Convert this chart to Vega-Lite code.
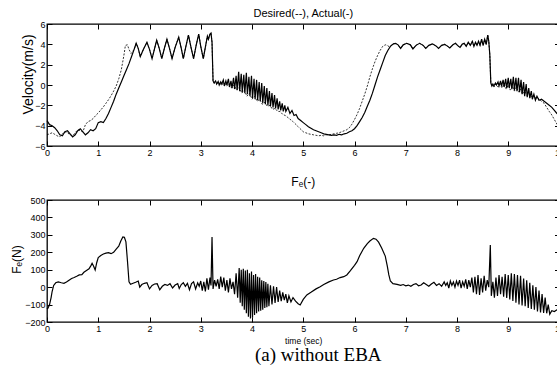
{
"$schema": "https://vega.github.io/schema/vega-lite/v6.json",
"padding": {"left": 9, "top": 7, "right": 0, "bottom": 0},
"background": "white",
"config": {
"view": {"stroke": "black", "strokeWidth": 1.3},
"font": "Liberation Sans",
"axis": {"domain": false, "grid": false, "ticks": true, "tickSize": -5, "tickColor": "black", "tickWidth": 1, "labelPadding": 7, "labelFlush": false, "labelFont": "Liberation Sans", "labelFontSize": 9, "labelColor": "black", "titleFont": "Liberation Sans", "titleFontWeight": "normal", "titleColor": "black"},
"title": {"font": "Liberation Sans", "fontWeight": "normal", "color": "black"}
},
"title": {"text": "(a) without EBA", "orient": "bottom", "anchor": "middle", "font": "Liberation Serif", "fontSize": 19, "fontWeight": "normal", "offset": 1, "dx": 31},
"spacing": 54,
"bounds": "flush",
"datasets": {
"vel": [
{"t":0,"v":-4.9,"s":"D"},{"t":0.05,"v":-4.8,"s":"D"},{"t":0.1,"v":-4.7,"s":"D"},{"t":0.15,"v":-4.85,"s":"D"},{"t":0.2,"v":-5.0,"s":"D"},{"t":0.25,"v":-5.1,"s":"D"},{"t":0.3,"v":-4.8,"s":"D"},{"t":0.35,"v":-4.6,"s":"D"},{"t":0.4,"v":-4.7,"s":"D"},{"t":0.45,"v":-4.9,"s":"D"},{"t":0.5,"v":-5.0,"s":"D"},{"t":0.55,"v":-4.7,"s":"D"},{"t":0.6,"v":-4.4,"s":"D"},{"t":0.65,"v":-4.5,"s":"D"},{"t":0.7,"v":-4.6,"s":"D"},{"t":0.75,"v":-3.9,"s":"D"},{"t":0.8,"v":-3.6,"s":"D"},{"t":0.85,"v":-3.5,"s":"D"},{"t":0.9,"v":-3.3,"s":"D"},{"t":0.95,"v":-3.0,"s":"D"},{"t":1.0,"v":-2.75,"s":"D"},{"t":1.05,"v":-2.45,"s":"D"},{"t":1.1,"v":-2.15,"s":"D"},{"t":1.15,"v":-1.8,"s":"D"},{"t":1.2,"v":-1.45,"s":"D"},{"t":1.25,"v":-1.05,"s":"D"},{"t":1.3,"v":-0.6,"s":"D"},{"t":1.35,"v":-0.1,"s":"D"},{"t":1.4,"v":0.6,"s":"D"},{"t":1.45,"v":1.5,"s":"D"},{"t":1.5,"v":2.9,"s":"D"},{"t":1.53,"v":3.9,"s":"D"},{"t":1.57,"v":3.95,"s":"D"},{"t":1.6,"v":3.5,"s":"D"},{"t":1.64,"v":3.1,"s":"D"},
{"t":0,"v":-3.5,"s":"A"},{"t":0.05,"v":-3.9,"s":"A"},{"t":0.1,"v":-4.0,"s":"A"},{"t":0.15,"v":-4.2,"s":"A"},{"t":0.2,"v":-4.5,"s":"A"},{"t":0.25,"v":-4.9,"s":"A"},{"t":0.3,"v":-5.0,"s":"A"},{"t":0.35,"v":-4.6,"s":"A"},{"t":0.4,"v":-4.5,"s":"A"},{"t":0.45,"v":-4.8,"s":"A"},{"t":0.5,"v":-5.1,"s":"A"},{"t":0.55,"v":-4.9,"s":"A"},{"t":0.6,"v":-4.5,"s":"A"},{"t":0.65,"v":-4.3,"s":"A"},{"t":0.7,"v":-4.6,"s":"A"},{"t":0.75,"v":-4.9,"s":"A"},{"t":0.8,"v":-4.7,"s":"A"},{"t":0.85,"v":-4.4,"s":"A"},{"t":0.9,"v":-4.5,"s":"A"},{"t":0.95,"v":-4.3,"s":"A"},{"t":1.0,"v":-3.7,"s":"A"},{"t":1.05,"v":-3.6,"s":"A"},{"t":1.1,"v":-3.7,"s":"A"},{"t":1.15,"v":-3.3,"s":"A"},{"t":1.2,"v":-2.8,"s":"A"},{"t":1.25,"v":-2.2,"s":"A"},{"t":1.3,"v":-1.6,"s":"A"},{"t":1.35,"v":-0.9,"s":"A"},{"t":1.4,"v":-0.3,"s":"A"},{"t":1.45,"v":0.3,"s":"A"},{"t":1.5,"v":0.9,"s":"A"},{"t":1.55,"v":1.5,"s":"A"},{"t":1.6,"v":2.1,"s":"A"},{"t":1.65,"v":2.8,"s":"A"},
{"t":1.7,"v":3.5,"s":"B"},{"t":1.74,"v":4.1,"s":"B"},{"t":1.78,"v":3.6,"s":"B"},{"t":1.82,"v":2.8,"s":"B"},{"t":1.88,"v":3.5,"s":"B"},{"t":1.95,"v":4.2,"s":"B"},{"t":2.0,"v":3.5,"s":"B"},{"t":2.05,"v":2.6,"s":"B"},{"t":2.1,"v":3.6,"s":"B"},{"t":2.14,"v":4.4,"s":"B"},{"t":2.19,"v":3.6,"s":"B"},{"t":2.24,"v":2.6,"s":"B"},{"t":2.29,"v":3.6,"s":"B"},{"t":2.34,"v":4.5,"s":"B"},{"t":2.39,"v":3.6,"s":"B"},{"t":2.44,"v":2.6,"s":"B"},{"t":2.5,"v":3.7,"s":"B"},{"t":2.57,"v":4.7,"s":"B"},{"t":2.62,"v":3.6,"s":"B"},{"t":2.66,"v":2.6,"s":"B"},{"t":2.71,"v":3.8,"s":"B"},{"t":2.76,"v":4.9,"s":"B"},{"t":2.81,"v":3.7,"s":"B"},{"t":2.86,"v":2.6,"s":"B"},{"t":2.91,"v":3.9,"s":"B"},{"t":2.96,"v":5.0,"s":"B"},{"t":3.0,"v":3.8,"s":"B"},{"t":3.05,"v":2.6,"s":"B"},{"t":3.1,"v":4.0,"s":"B"},{"t":3.13,"v":4.8,"s":"B"},{"t":3.15,"v":4.5,"s":"B"},{"t":3.18,"v":5.0,"s":"B"},{"t":3.2,"v":5.1,"s":"B"},{"t":3.22,"v":4.2,"s":"B"},{"t":3.24,"v":0.4,"s":"B"},
{"t":3.26,"v":0.2,"s":"A"},{"t":3.29,"v":0.4,"s":"A"},{"t":3.31,"v":0.1,"s":"A"},{"t":3.34,"v":0.35,"s":"A"},{"t":3.36,"v":0.0,"s":"A"},{"t":3.39,"v":0.3,"s":"A"},{"t":3.41,"v":0.1,"s":"A"},{"t":3.44,"v":0.5,"s":"A"},{"t":3.46,"v":-0.1,"s":"A"},{"t":3.49,"v":0.4,"s":"A"},{"t":3.51,"v":0.0,"s":"A"},{"t":3.54,"v":0.6,"s":"A"},{"t":3.56,"v":-0.2,"s":"A"},{"t":3.59,"v":0.4,"s":"A"},{"t":3.61,"v":-0.3,"s":"A"},{"t":3.64,"v":0.7,"s":"A"},{"t":3.66,"v":-0.4,"s":"A"},{"t":3.69,"v":0.9,"s":"A"},{"t":3.71,"v":-0.5,"s":"A"},{"t":3.74,"v":1.3,"s":"A"},{"t":3.76,"v":-0.6,"s":"A"},{"t":3.79,"v":1.1,"s":"A"},{"t":3.81,"v":-0.7,"s":"A"},{"t":3.84,"v":1.0,"s":"A"},{"t":3.86,"v":-0.8,"s":"A"},{"t":3.89,"v":1.2,"s":"A"},{"t":3.91,"v":-0.9,"s":"A"},{"t":3.94,"v":0.8,"s":"A"},{"t":3.96,"v":-1.1,"s":"A"},{"t":3.99,"v":0.9,"s":"A"},{"t":4.01,"v":-1.3,"s":"A"},{"t":4.04,"v":0.6,"s":"A"},{"t":4.06,"v":-1.4,"s":"A"},{"t":4.09,"v":0.5,"s":"A"},{"t":4.11,"v":-1.5,"s":"A"},{"t":4.14,"v":0.3,"s":"A"},{"t":4.16,"v":-1.6,"s":"A"},{"t":4.19,"v":0.2,"s":"A"},{"t":4.21,"v":-1.8,"s":"A"},{"t":4.24,"v":-0.1,"s":"A"},{"t":4.26,"v":-1.9,"s":"A"},{"t":4.29,"v":-0.3,"s":"A"},{"t":4.31,"v":-2.0,"s":"A"},{"t":4.34,"v":-0.6,"s":"A"},{"t":4.36,"v":-2.1,"s":"A"},{"t":4.39,"v":-0.8,"s":"A"},{"t":4.41,"v":-2.2,"s":"A"},{"t":4.44,"v":-1.0,"s":"A"},{"t":4.46,"v":-2.3,"s":"A"},{"t":4.49,"v":-1.3,"s":"A"},{"t":4.51,"v":-2.4,"s":"A"},{"t":4.54,"v":-1.6,"s":"A"},{"t":4.56,"v":-2.5,"s":"A"},{"t":4.59,"v":-1.8,"s":"A"},{"t":4.61,"v":-2.6,"s":"A"},{"t":4.64,"v":-2.0,"s":"A"},{"t":4.66,"v":-2.6,"s":"A"},{"t":4.7,"v":-2.2,"s":"A"},{"t":4.74,"v":-2.8,"s":"A"},{"t":4.78,"v":-2.5,"s":"A"},{"t":4.82,"v":-3.0,"s":"A"},{"t":4.86,"v":-2.9,"s":"A"},{"t":4.9,"v":-3.3,"s":"A"},{"t":4.95,"v":-3.5,"s":"A"},{"t":5.0,"v":-3.7,"s":"A"},
{"t":3.26,"v":0.2,"s":"D"},{"t":3.3,"v":0.1,"s":"D"},{"t":3.35,"v":0.25,"s":"D"},{"t":3.4,"v":0.0,"s":"D"},{"t":3.45,"v":0.2,"s":"D"},{"t":3.5,"v":-0.1,"s":"D"},{"t":3.55,"v":0.1,"s":"D"},{"t":3.6,"v":-0.3,"s":"D"},{"t":3.65,"v":0.0,"s":"D"},{"t":3.7,"v":-0.5,"s":"D"},{"t":3.75,"v":-0.2,"s":"D"},{"t":3.8,"v":-0.8,"s":"D"},{"t":3.85,"v":-0.5,"s":"D"},{"t":3.9,"v":-1.1,"s":"D"},{"t":3.95,"v":-0.8,"s":"D"},{"t":4.0,"v":-1.4,"s":"D"},{"t":4.05,"v":-1.1,"s":"D"},{"t":4.1,"v":-1.6,"s":"D"},{"t":4.15,"v":-1.4,"s":"D"},{"t":4.2,"v":-1.9,"s":"D"},{"t":4.25,"v":-1.7,"s":"D"},{"t":4.3,"v":-2.1,"s":"D"},{"t":4.35,"v":-2.0,"s":"D"},{"t":4.4,"v":-2.4,"s":"D"},{"t":4.45,"v":-2.3,"s":"D"},{"t":4.5,"v":-2.6,"s":"D"},{"t":4.55,"v":-2.6,"s":"D"},{"t":4.6,"v":-2.9,"s":"D"},{"t":4.65,"v":-3.0,"s":"D"},{"t":4.7,"v":-3.2,"s":"D"},{"t":4.8,"v":-3.6,"s":"D"},{"t":4.9,"v":-4.1,"s":"D"},{"t":5.0,"v":-4.6,"s":"D"},
{"t":5.05,"v":-3.9,"s":"A"},{"t":5.1,"v":-4.1,"s":"A"},{"t":5.15,"v":-4.25,"s":"A"},{"t":5.2,"v":-4.4,"s":"A"},{"t":5.25,"v":-4.5,"s":"A"},{"t":5.3,"v":-4.6,"s":"A"},{"t":5.35,"v":-4.7,"s":"A"},{"t":5.4,"v":-4.8,"s":"A"},{"t":5.45,"v":-4.85,"s":"A"},{"t":5.5,"v":-4.9,"s":"A"},{"t":5.55,"v":-4.95,"s":"A"},{"t":5.6,"v":-4.9,"s":"A"},{"t":5.65,"v":-4.95,"s":"A"},{"t":5.7,"v":-4.85,"s":"A"},{"t":5.75,"v":-4.9,"s":"A"},{"t":5.8,"v":-4.8,"s":"A"},{"t":5.85,"v":-4.75,"s":"A"},{"t":5.9,"v":-4.6,"s":"A"},{"t":5.95,"v":-4.5,"s":"A"},{"t":6.0,"v":-4.3,"s":"A"},{"t":6.05,"v":-4.0,"s":"A"},{"t":6.1,"v":-3.6,"s":"A"},{"t":6.15,"v":-3.2,"s":"A"},{"t":6.2,"v":-2.7,"s":"A"},{"t":6.25,"v":-2.1,"s":"A"},{"t":6.3,"v":-1.5,"s":"A"},{"t":6.35,"v":-0.8,"s":"A"},{"t":6.4,"v":0.0,"s":"A"},{"t":6.45,"v":0.8,"s":"A"},{"t":6.5,"v":1.5,"s":"A"},{"t":6.55,"v":2.2,"s":"A"},{"t":6.6,"v":2.9,"s":"A"},{"t":6.65,"v":3.4,"s":"A"},{"t":6.7,"v":3.8,"s":"A"},
{"t":5.05,"v":-4.7,"s":"D"},{"t":5.1,"v":-4.8,"s":"D"},{"t":5.15,"v":-4.85,"s":"D"},{"t":5.2,"v":-4.9,"s":"D"},{"t":5.25,"v":-4.95,"s":"D"},{"t":5.3,"v":-5.0,"s":"D"},{"t":5.35,"v":-4.95,"s":"D"},{"t":5.4,"v":-5.0,"s":"D"},{"t":5.45,"v":-4.9,"s":"D"},{"t":5.5,"v":-4.9,"s":"D"},{"t":5.55,"v":-4.85,"s":"D"},{"t":5.6,"v":-4.8,"s":"D"},{"t":5.65,"v":-4.75,"s":"D"},{"t":5.7,"v":-4.7,"s":"D"},{"t":5.75,"v":-4.6,"s":"D"},{"t":5.8,"v":-4.5,"s":"D"},{"t":5.85,"v":-4.4,"s":"D"},{"t":5.9,"v":-4.2,"s":"D"},{"t":5.95,"v":-3.85,"s":"D"},{"t":6.0,"v":-3.4,"s":"D"},{"t":6.05,"v":-2.9,"s":"D"},{"t":6.1,"v":-2.3,"s":"D"},{"t":6.15,"v":-1.6,"s":"D"},{"t":6.2,"v":-0.9,"s":"D"},{"t":6.25,"v":-0.1,"s":"D"},{"t":6.3,"v":0.8,"s":"D"},{"t":6.35,"v":1.6,"s":"D"},{"t":6.4,"v":2.3,"s":"D"},{"t":6.45,"v":2.9,"s":"D"},{"t":6.5,"v":3.4,"s":"D"},{"t":6.55,"v":3.8,"s":"D"},{"t":6.6,"v":3.95,"s":"D"},{"t":6.64,"v":3.9,"s":"D"},{"t":6.68,"v":3.75,"s":"D"},
{"t":6.76,"v":4.05,"s":"B"},{"t":6.8,"v":4.1,"s":"B"},{"t":6.85,"v":3.95,"s":"B"},{"t":6.9,"v":3.6,"s":"B"},{"t":6.95,"v":3.95,"s":"B"},{"t":7.02,"v":4.1,"s":"B"},{"t":7.09,"v":3.95,"s":"B"},{"t":7.14,"v":3.55,"s":"B"},{"t":7.2,"v":3.9,"s":"B"},{"t":7.27,"v":4.1,"s":"B"},{"t":7.34,"v":3.9,"s":"B"},{"t":7.39,"v":3.6,"s":"B"},{"t":7.45,"v":3.9,"s":"B"},{"t":7.52,"v":4.05,"s":"B"},{"t":7.59,"v":3.85,"s":"B"},{"t":7.64,"v":3.6,"s":"B"},{"t":7.7,"v":3.9,"s":"B"},{"t":7.76,"v":4.0,"s":"B"},{"t":7.82,"v":3.8,"s":"B"},{"t":7.86,"v":3.65,"s":"B"},{"t":7.92,"v":3.95,"s":"B"},{"t":7.97,"v":4.1,"s":"B"},{"t":8.02,"v":3.85,"s":"B"},{"t":8.06,"v":3.7,"s":"B"},{"t":8.1,"v":4.0,"s":"B"},{"t":8.14,"v":4.1,"s":"B"},{"t":8.18,"v":3.8,"s":"B"},{"t":8.22,"v":4.2,"s":"B"},{"t":8.26,"v":3.9,"s":"B"},{"t":8.3,"v":4.3,"s":"B"},{"t":8.33,"v":3.8,"s":"B"},{"t":8.36,"v":4.2,"s":"B"},{"t":8.39,"v":3.9,"s":"B"},{"t":8.42,"v":4.3,"s":"B"},{"t":8.45,"v":3.9,"s":"B"},{"t":8.48,"v":4.5,"s":"B"},{"t":8.51,"v":3.9,"s":"B"},{"t":8.54,"v":4.5,"s":"B"},{"t":8.57,"v":4.0,"s":"B"},{"t":8.6,"v":4.9,"s":"B"},{"t":8.62,"v":4.3,"s":"B"},{"t":8.64,"v":3.0,"s":"B"},{"t":8.66,"v":0.2,"s":"B"},
{"t":8.68,"v":-0.1,"s":"A"},{"t":8.7,"v":0.1,"s":"A"},{"t":8.72,"v":-0.1,"s":"A"},{"t":8.75,"v":0.2,"s":"A"},{"t":8.77,"v":0.0,"s":"A"},{"t":8.8,"v":0.3,"s":"A"},{"t":8.82,"v":-0.1,"s":"A"},{"t":8.85,"v":0.4,"s":"A"},{"t":8.87,"v":-0.1,"s":"A"},{"t":8.9,"v":0.5,"s":"A"},{"t":8.92,"v":-0.2,"s":"A"},{"t":8.95,"v":0.6,"s":"A"},{"t":8.97,"v":-0.3,"s":"A"},{"t":9.0,"v":0.7,"s":"A"},{"t":9.02,"v":-0.3,"s":"A"},{"t":9.05,"v":0.6,"s":"A"},{"t":9.07,"v":-0.4,"s":"A"},{"t":9.1,"v":0.8,"s":"A"},{"t":9.12,"v":-0.5,"s":"A"},{"t":9.15,"v":0.7,"s":"A"},{"t":9.17,"v":-0.6,"s":"A"},{"t":9.2,"v":0.7,"s":"A"},{"t":9.22,"v":-0.7,"s":"A"},{"t":9.25,"v":0.5,"s":"A"},{"t":9.27,"v":-0.9,"s":"A"},{"t":9.3,"v":0.3,"s":"A"},{"t":9.32,"v":-1.1,"s":"A"},{"t":9.35,"v":0.1,"s":"A"},{"t":9.37,"v":-1.2,"s":"A"},{"t":9.4,"v":-0.3,"s":"A"},{"t":9.42,"v":-1.3,"s":"A"},{"t":9.45,"v":-0.6,"s":"A"},{"t":9.47,"v":-1.4,"s":"A"},{"t":9.5,"v":-0.9,"s":"A"},{"t":9.53,"v":-1.5,"s":"A"},{"t":9.56,"v":-1.1,"s":"A"},{"t":9.6,"v":-1.5,"s":"A"},{"t":9.65,"v":-1.4,"s":"A"},{"t":9.7,"v":-1.6,"s":"A"},{"t":9.75,"v":-1.8,"s":"A"},{"t":9.8,"v":-2.0,"s":"A"},{"t":9.85,"v":-2.2,"s":"A"},{"t":9.9,"v":-2.5,"s":"A"},{"t":9.95,"v":-2.8,"s":"A"},{"t":10.0,"v":-3.0,"s":"A"},
{"t":8.68,"v":0.0,"s":"D"},{"t":8.72,"v":-0.2,"s":"D"},{"t":8.76,"v":0.1,"s":"D"},{"t":8.8,"v":-0.2,"s":"D"},{"t":8.84,"v":0.1,"s":"D"},{"t":8.88,"v":-0.3,"s":"D"},{"t":8.92,"v":0.1,"s":"D"},{"t":8.96,"v":-0.4,"s":"D"},{"t":9.0,"v":0.0,"s":"D"},{"t":9.04,"v":-0.5,"s":"D"},{"t":9.08,"v":-0.1,"s":"D"},{"t":9.12,"v":-0.6,"s":"D"},{"t":9.16,"v":-0.2,"s":"D"},{"t":9.2,"v":-0.7,"s":"D"},{"t":9.24,"v":-0.4,"s":"D"},{"t":9.28,"v":-0.9,"s":"D"},{"t":9.32,"v":-0.6,"s":"D"},{"t":9.36,"v":-1.0,"s":"D"},{"t":9.4,"v":-0.8,"s":"D"},{"t":9.44,"v":-1.2,"s":"D"},{"t":9.48,"v":-1.0,"s":"D"},{"t":9.52,"v":-1.3,"s":"D"},{"t":9.56,"v":-1.2,"s":"D"},{"t":9.6,"v":-1.4,"s":"D"},{"t":9.65,"v":-1.6,"s":"D"},{"t":9.7,"v":-1.8,"s":"D"},{"t":9.75,"v":-2.2,"s":"D"},{"t":9.8,"v":-2.6,"s":"D"},{"t":9.85,"v":-2.95,"s":"D"},{"t":9.9,"v":-3.4,"s":"D"},{"t":9.95,"v":-3.85,"s":"D"},{"t":10.0,"v":-4.2,"s":"D"}
],
"force": [
{"t":0,"f":-125},{"t":0.02,"f":-120},{"t":0.05,"f":-100},{"t":0.08,"f":-60},{"t":0.1,"f":-25},{"t":0.13,"f":10},{"t":0.17,"f":25},{"t":0.22,"f":30},{"t":0.28,"f":25},{"t":0.33,"f":22},{"t":0.38,"f":30},{"t":0.43,"f":40},{"t":0.48,"f":50},{"t":0.53,"f":55},{"t":0.58,"f":62},{"t":0.63,"f":70},{"t":0.68,"f":72},{"t":0.72,"f":85},{"t":0.77,"f":95},{"t":0.82,"f":105},{"t":0.86,"f":125},{"t":0.88,"f":137},{"t":0.91,"f":120},{"t":0.94,"f":98},{"t":0.97,"f":140},{"t":1.0,"f":170},{"t":1.05,"f":182},{"t":1.1,"f":190},{"t":1.15,"f":195},{"t":1.2,"f":198},{"t":1.25,"f":192},{"t":1.3,"f":200},{"t":1.35,"f":218},{"t":1.4,"f":235},{"t":1.44,"f":265},{"t":1.48,"f":288},{"t":1.51,"f":286},{"t":1.54,"f":260},{"t":1.57,"f":150},{"t":1.6,"f":30},{"t":1.63,"f":16},{"t":1.68,"f":22},{"t":1.73,"f":28},{"t":1.78,"f":35},{"t":1.81,"f":0},{"t":1.85,"f":15},{"t":1.9,"f":22},{"t":1.95,"f":25},{"t":2.0,"f":-10},{"t":2.05,"f":10},{"t":2.1,"f":18},{"t":2.15,"f":20},{"t":2.2,"f":-15},{"t":2.25,"f":5},{"t":2.3,"f":15},{"t":2.35,"f":10},{"t":2.4,"f":20},{"t":2.45,"f":-5},{"t":2.5,"f":12},{"t":2.55,"f":20},{"t":2.58,"f":-8},{"t":2.62,"f":15},{"t":2.66,"f":25},{"t":2.7,"f":5},{"t":2.74,"f":22},{"t":2.78,"f":-15},{"t":2.82,"f":20},{"t":2.86,"f":30},{"t":2.9,"f":-10},{"t":2.94,"f":25},{"t":2.97,"f":5},{"t":3.0,"f":35},{"t":3.03,"f":-20},{"t":3.06,"f":30},{"t":3.09,"f":-25},{"t":3.12,"f":50},{"t":3.15,"f":-15},{"t":3.18,"f":55},{"t":3.2,"f":10},{"t":3.22,"f":288},{"t":3.24,"f":-10},{"t":3.27,"f":40},{"t":3.3,"f":5},{"t":3.33,"f":45},{"t":3.36,"f":-10},{"t":3.39,"f":60},{"t":3.42,"f":0},{"t":3.45,"f":55},{"t":3.48,"f":-20},{"t":3.51,"f":40},{"t":3.54,"f":-30},{"t":3.57,"f":50},{"t":3.6,"f":-10},{"t":3.63,"f":30},{"t":3.66,"f":-40},{"t":3.69,"f":80},{"t":3.72,"f":-60},{"t":3.75,"f":110},{"t":3.77,"f":-90},{"t":3.79,"f":100},{"t":3.81,"f":-110},{"t":3.83,"f":105},{"t":3.85,"f":-130},{"t":3.87,"f":95},{"t":3.89,"f":-150},{"t":3.91,"f":100},{"t":3.93,"f":-170},{"t":3.95,"f":80},{"t":3.97,"f":-180},{"t":3.99,"f":90},{"t":4.01,"f":-175},{"t":4.03,"f":70},{"t":4.05,"f":-160},{"t":4.07,"f":75},{"t":4.09,"f":-150},{"t":4.11,"f":60},{"t":4.13,"f":-140},{"t":4.15,"f":55},{"t":4.17,"f":-135},{"t":4.19,"f":40},{"t":4.21,"f":-130},{"t":4.23,"f":35},{"t":4.25,"f":-120},{"t":4.27,"f":30},{"t":4.29,"f":-115},{"t":4.31,"f":20},{"t":4.33,"f":-110},{"t":4.36,"f":10},{"t":4.39,"f":-100},{"t":4.42,"f":5},{"t":4.45,"f":-90},{"t":4.48,"f":0},{"t":4.51,"f":-85},{"t":4.54,"f":-20},{"t":4.57,"f":-80},{"t":4.6,"f":-30},{"t":4.63,"f":-75},{"t":4.66,"f":-40},{"t":4.69,"f":-90},{"t":4.72,"f":-50},{"t":4.76,"f":-85},{"t":4.8,"f":-60},{"t":4.85,"f":-80},{"t":4.9,"f":-95},{"t":4.94,"f":-102},{"t":5.0,"f":-70},{"t":5.07,"f":-45},{"t":5.15,"f":-30},{"t":5.25,"f":-10},{"t":5.33,"f":2},{"t":5.4,"f":15},{"t":5.5,"f":30},{"t":5.59,"f":41},{"t":5.65,"f":45},{"t":5.72,"f":55},{"t":5.79,"f":60},{"t":5.85,"f":70},{"t":5.92,"f":95},{"t":6.0,"f":125},{"t":6.05,"f":146},{"t":6.1,"f":180},{"t":6.18,"f":223},{"t":6.25,"f":250},{"t":6.3,"f":265},{"t":6.37,"f":280},{"t":6.42,"f":275},{"t":6.47,"f":258},{"t":6.53,"f":225},{"t":6.6,"f":178},{"t":6.64,"f":120},{"t":6.67,"f":70},{"t":6.7,"f":35},{"t":6.75,"f":20},{"t":6.83,"f":16},{"t":6.9,"f":10},{"t":6.95,"f":15},{"t":7.0,"f":8},{"t":7.05,"f":12},{"t":7.1,"f":5},{"t":7.15,"f":15},{"t":7.2,"f":20},{"t":7.25,"f":8},{"t":7.3,"f":12},{"t":7.35,"f":25},{"t":7.4,"f":15},{"t":7.45,"f":5},{"t":7.5,"f":18},{"t":7.55,"f":28},{"t":7.6,"f":10},{"t":7.65,"f":20},{"t":7.7,"f":5},{"t":7.75,"f":30},{"t":7.78,"f":10},{"t":7.81,"f":25},{"t":7.84,"f":-5},{"t":7.87,"f":35},{"t":7.9,"f":10},{"t":7.93,"f":30},{"t":7.96,"f":0},{"t":7.99,"f":35},{"t":8.02,"f":10},{"t":8.05,"f":40},{"t":8.08,"f":-5},{"t":8.11,"f":30},{"t":8.14,"f":5},{"t":8.17,"f":45},{"t":8.2,"f":-10},{"t":8.23,"f":40},{"t":8.26,"f":0},{"t":8.29,"f":55},{"t":8.32,"f":-30},{"t":8.35,"f":60},{"t":8.38,"f":-40},{"t":8.41,"f":70},{"t":8.44,"f":-45},{"t":8.47,"f":50},{"t":8.5,"f":-30},{"t":8.53,"f":65},{"t":8.56,"f":-20},{"t":8.59,"f":40},{"t":8.62,"f":0},{"t":8.65,"f":242},{"t":8.67,"f":-50},{"t":8.7,"f":30},{"t":8.73,"f":-60},{"t":8.76,"f":55},{"t":8.79,"f":-50},{"t":8.82,"f":70},{"t":8.85,"f":-40},{"t":8.88,"f":60},{"t":8.91,"f":-55},{"t":8.94,"f":75},{"t":8.97,"f":-62},{"t":9.0,"f":70},{"t":9.03,"f":-70},{"t":9.06,"f":80},{"t":9.09,"f":-80},{"t":9.12,"f":75},{"t":9.15,"f":-90},{"t":9.18,"f":70},{"t":9.21,"f":-100},{"t":9.24,"f":65},{"t":9.27,"f":-105},{"t":9.3,"f":50},{"t":9.33,"f":-110},{"t":9.36,"f":40},{"t":9.39,"f":-120},{"t":9.42,"f":25},{"t":9.45,"f":-125},{"t":9.48,"f":10},{"t":9.51,"f":-130},{"t":9.54,"f":0},{"t":9.57,"f":-140},{"t":9.6,"f":-20},{"t":9.63,"f":-145},{"t":9.66,"f":-40},{"t":9.69,"f":-148},{"t":9.72,"f":-60},{"t":9.75,"f":-150},{"t":9.78,"f":-100},{"t":9.81,"f":-155},{"t":9.85,"f":-135},{"t":9.9,"f":-140},{"t":9.95,"f":-130},{"t":10.0,"f":-125}
]
},
"vconcat": [
{
"width": 512.5, "height": 122,
"title": {"text": "Desired(--), Actual(-)", "fontSize": 11, "offset": 1},
"data": {"name": "vel"},
"resolve": {"axis": {"x": "independent", "y": "independent"}},
"layer": [
{"transform": [{"filter": "datum.s != 'A'"}],
"mark": {"type": "line", "color": "black", "strokeWidth": 0.8, "strokeDash": [2, 1.5]},
"encoding": {
"x": {"field": "t", "type": "quantitative", "scale": {"domain": [0, 10], "nice": false}, "axis": {"orient": "bottom", "values": [0,1,2,3,4,5,6,7,8,9,10], "title": null}},
"y": {"field": "v", "type": "quantitative", "scale": {"domain": [-6, 6], "nice": false}, "axis": {"orient": "left", "values": [-6,-4,-2,0,2,4,6], "title": "Velocity(m/s)", "titleFontSize": 14, "titleX": -19, "titleY": 50, "titleAngle": 270, "titleAlign": "center", "titleBaseline": "middle"}}
}},
{"transform": [{"filter": "datum.s != 'D'"}],
"mark": {"type": "line", "color": "black", "strokeWidth": 1.2},
"encoding": {
"x": {"field": "t", "type": "quantitative", "axis": {"orient": "top", "values": [0,1,2,3,4,5,6,7,8,9,10], "labels": false, "title": null}},
"y": {"field": "v", "type": "quantitative", "axis": {"orient": "right", "values": [-6,-4,-2,0,2,4,6], "labels": false, "title": null}}
}}
]
},
{
"width": 512.5, "height": 122,
"title": {"text": "Fₑ(-)", "fontSize": 12, "offset": 7},
"data": {"name": "force"},
"resolve": {"axis": {"x": "independent", "y": "independent"}},
"layer": [
{"mark": {"type": "line", "color": "black", "strokeWidth": 1.2},
"encoding": {
"x": {"field": "t", "type": "quantitative", "scale": {"domain": [0, 10], "nice": false}, "axis": {"orient": "bottom", "values": [0,1,2,3,4,5,6,7,8,9,10], "title": "time (sec)", "titleFontSize": 8.5, "titlePadding": 3}},
"y": {"field": "f", "type": "quantitative", "scale": {"domain": [-200, 500], "nice": false}, "axis": {"orient": "left", "values": [-200,-100,0,100,200,300,400,500], "title": "Fₑ(N)", "titleFontSize": 12, "titleX": -31, "titleY": 59, "titleAngle": 270, "titleAlign": "center", "titleBaseline": "middle"}}
}},
{"mark": {"type": "line", "color": "black", "strokeWidth": 0, "opacity": 0},
"encoding": {
"x": {"field": "t", "type": "quantitative", "axis": {"orient": "top", "values": [0,1,2,3,4,5,6,7,8,9,10], "labels": false, "title": null}},
"y": {"field": "f", "type": "quantitative", "axis": {"orient": "right", "values": [-200,-100,0,100,200,300,400,500], "labels": false, "title": null}}
}}
]
}
]
}
